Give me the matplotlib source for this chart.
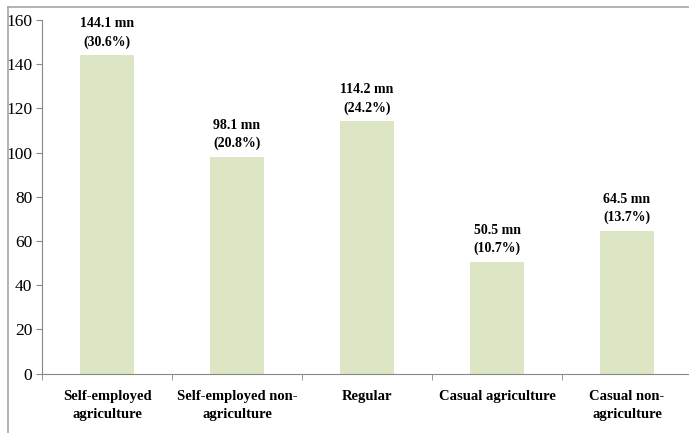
import matplotlib.pyplot as plt
from matplotlib.lines import Line2D

categories = ['Self-employed\nagriculture', 'Self-employed non-\nagriculture',
              'Regular', 'Casual agriculture', 'Casual non-\nagriculture']
values = [144.1, 98.1, 114.2, 50.5, 64.5]
shares = ['30.6%', '20.8%', '24.2%', '10.7%', '13.7%']

plt.rcParams['font.family'] = ['Liberation Serif', 'DejaVu Serif']

fig = plt.figure(figsize=(6.89, 4.33), dpi=100)
ax = fig.add_axes([42 / 689, 59.3 / 433, 650 / 689, 353.7 / 433])

# outer frame: only left and top edges show in the reference
fl, ft = 7.5 / 689, 1 - 6.5 / 433
fig.add_artist(Line2D([fl, fl], [0, ft], transform=fig.transFigure,
                      color='#a6a6a6', linewidth=1.2))
fig.add_artist(Line2D([fl, 1], [ft, ft], transform=fig.transFigure,
                      color='#a6a6a6', linewidth=1.2))

x = range(len(categories))
ax.bar(x, values, width=0.41, color='#dce6c5')

for i, (v, s) in enumerate(zip(values, shares)):
    ax.text(i, v + 3, f'{v} mn\n({s})', ha='center', va='bottom',
            fontsize=10, fontweight='bold', linespacing=1.45)

ax.set_xlim(-0.5, 4.5)
ax.set_ylim(0, 160)
ax.set_yticks(range(0, 161, 20))
ax.tick_params(axis='y', labelsize=12.5, length=4, color='#888888', pad=3)

ax.set_xticks(list(x))
ax.set_xticklabels(categories, fontsize=10.5, fontweight='bold', linespacing=1.45)
ax.set_xticks([i + 0.5 for i in range(-1, 5)], minor=True)
ax.tick_params(axis='x', which='major', length=0, pad=12)
ax.tick_params(axis='x', which='minor', length=4, color='#888888')

for side in ['top', 'right']:
    ax.spines[side].set_visible(False)
for side in ['left', 'bottom']:
    ax.spines[side].set_color('#888888')

plt.savefig('out.png', dpi=100)
